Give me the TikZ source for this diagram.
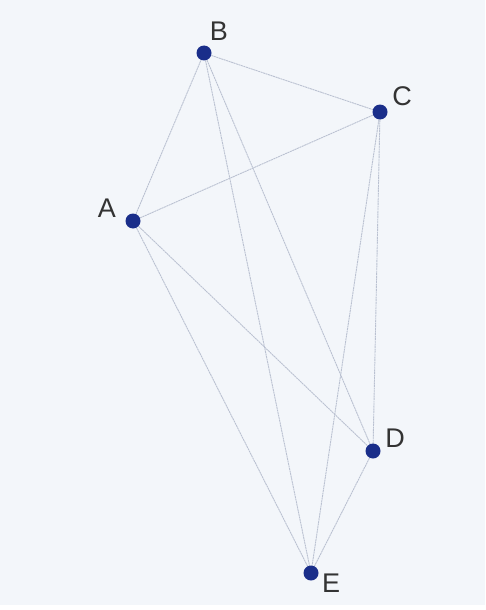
\documentclass[tikz,border=0pt]{standalone}
\usepackage{fontspec}
\setmainfont{Liberation Sans}
\definecolor{bg}{HTML}{F3F6FA}
\definecolor{edgec}{HTML}{BAC1D1}
\definecolor{dotc}{HTML}{1A2E8A}
\definecolor{labc}{HTML}{333333}
\begin{document}
\begin{tikzpicture}[x=1pt,y=-1pt,
  vert/.style={circle,fill=dotc,inner sep=0pt,minimum size=15pt},
  lab/.style={text=labc,font=\fontsize{27}{27}\selectfont,inner sep=0pt},
  edge/.style={draw=edgec,line width=0.9pt,dash pattern=on 2pt off 0.6pt}]
\fill[bg] (0,0) rectangle (485,610);
\fill[white] (0,605) rectangle (485,610);
\useasboundingbox (0,0) rectangle (485,610);
\coordinate (A) at (133,221);
\coordinate (B) at (204,53);
\coordinate (C) at (380,112);
\coordinate (D) at (373,451);
\coordinate (E) at (311,573);
\draw[edge] (A) -- (B);
\draw[edge] (A) -- (C);
\draw[edge] (A) -- (D);
\draw[edge] (A) -- (E);
\draw[edge] (B) -- (C);
\draw[edge] (B) -- (D);
\draw[edge] (B) -- (E);
\draw[edge] (C) -- (D);
\draw[edge] (C) -- (E);
\draw[edge] (D) -- (E);
\node[vert] (vA) at (A) {};
\node[vert] (vB) at (B) {};
\node[vert] (vC) at (C) {};
\node[vert] (vD) at (D) {};
\node[vert] (vE) at (E) {};
\node[lab] (lA) at (107,208) {A};
\node[lab] (lB) at (219,31) {B};
\node[lab] (lC) at (402,96) {C};
\node[lab] (lD) at (395,438) {D};
\node[lab] (lE) at (331,583) {E};
\end{tikzpicture}
\end{document}
